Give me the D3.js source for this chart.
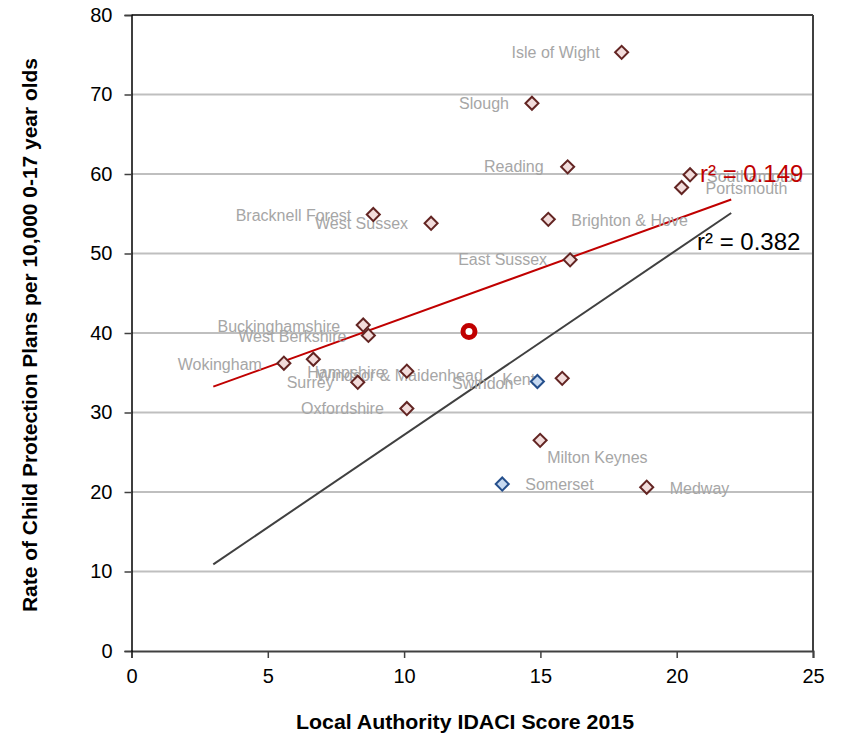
<!DOCTYPE html>
<html>
<head>
<meta charset="utf-8">
<script src="https://cdn.jsdelivr.net/npm/d3@7"></script>
<style>
  html, body { margin: 0; padding: 0; background: #fff; }
  svg { display: block; }
</style>
</head>
<body>
<svg id="chart" width="843" height="740"></svg>
<script>
// ---- Data ----
const authorities = ["Isle of Wight","Slough","Reading","Southampton","Portsmouth","Brighton & Hove","East Sussex",
  "Bracknell Forest","West Sussex","Buckinghamshire","West Berkshire","Wokingham","Hampshire","Surrey",
  "Windsor & Maidenhead","Oxfordshire","Swindon","Kent","Milton Keynes","Somerset","Medway"];
const idaci = [17.98,14.69,16.0,20.49,20.18,15.29,16.09,8.87,10.99,8.5,8.69,5.59,6.67,8.3,10.1,10.1,14.89,15.8,14.99,13.6,18.9];
const cppRate = [75.3,68.9,60.9,59.9,58.3,54.3,49.2,54.9,53.8,41.0,39.7,36.2,36.7,33.8,35.2,30.5,33.9,34.3,26.5,21.0,20.6];
const groups = ["se","se","se","se","se","se","se","se","se","se","se","se","se","se","se","se","sw","se","se","sw","se"];

const averagePoint = [12.38, 40.2];

const trendX = [3, 22];
const redTrendY = [33.25, 56.8];
const blackTrendY = [10.9, 55.1];
const redR2 = "r² = 0.149";
const blackR2 = "r² = 0.382";

const xTicks = [0,5,10,15,20,25];
const yTicks = [0,10,20,30,40,50,60,70,80];
const xTitle = "Local Authority IDACI Score 2015";
const yTitle = "Rate of Child Protection Plans per 10,000 0-17 year olds";

// ---- Label placement (style/layout, separate from data) ----
const labelPlacement = {
  "Isle of Wight": [-22, 0, "end"], "Slough": [-23, 0, "end"], "Reading": [-24, 0, "end"],
  "Southampton": [17, 2, "start"], "Portsmouth": [24, 1, "start"], "Brighton & Hove": [23, 1, "start"],
  "East Sussex": [-23, 0, "end"], "Bracknell Forest": [-22, 1, "end"], "West Sussex": [-23, 0, "end"],
  "Buckinghamshire": [-23, 1, "end"], "West Berkshire": [-22, 1, "end"], "Wokingham": [-22, 1, "end"],
  "Hampshire": [-6, 13, "start"], "Surrey": [-24, 0, "end"], "Windsor & Maidenhead": [76, 4, "end"],
  "Oxfordshire": [-23, 0, "end"], "Swindon": [-24, 2, "end"], "Kent": [-27, 1, "end"],
  "Milton Keynes": [7, 17, "start"], "Somerset": [23, 0, "start"], "Medway": [23, 1, "start"]
};

// ---- Layout ----
const svg = d3.select("#chart");
const L = 131.5, R = 813, T = 15, B = 651;
const x = d3.scaleLinear().domain([0,25]).range([L,R]);
const y = d3.scaleLinear().domain([0,80]).range([B,T]);
const font = "'Liberation Sans', Arial, sans-serif";

// gridlines
svg.append("g").selectAll("line").data(yTicks.filter(d => d > 0 && d < 80)).join("line")
  .attr("x1", L).attr("x2", R).attr("y1", d => y(d)).attr("y2", d => y(d))
  .attr("stroke", "#bfbfbf").attr("stroke-width", 2.2);

// frame top/right
svg.append("line").attr("x1", L).attr("x2", R).attr("y1", T).attr("y2", T)
  .attr("stroke", "#404040").attr("stroke-width", 2);
svg.append("line").attr("x1", R).attr("x2", R).attr("y1", T).attr("y2", B)
  .attr("stroke", "#404040").attr("stroke-width", 2);

// axes
const xAxis = svg.append("g").attr("transform", `translate(0,${B})`)
  .call(d3.axisBottom(x).tickValues(xTicks).tickSize(7).tickPadding(11).tickFormat(d3.format("d")));
const yAxis = svg.append("g").attr("transform", `translate(${L},0)`)
  .call(d3.axisLeft(y).tickValues(yTicks).tickSize(7).tickPadding(12).tickFormat(d3.format("d")));
[xAxis, yAxis].forEach(g => {
  g.select(".domain").attr("stroke", "#000").attr("stroke-width", 1.5);
  g.selectAll(".tick line").attr("stroke", "#404040").attr("stroke-width", 1.5);
  g.selectAll("text").attr("font-family", font).attr("font-size", 20).attr("fill", "#000");
});
xAxis.select(".domain").attr("stroke", "#404040").attr("stroke-width", 2);

// trend lines
const line = d3.line().x(d => x(d[0])).y(d => y(d[1]));
svg.append("path").datum(trendX.map((v,i) => [v, blackTrendY[i]]))
  .attr("d", line).attr("fill", "none").attr("stroke", "#404040").attr("stroke-width", 2);
svg.append("path").datum(trendX.map((v,i) => [v, redTrendY[i]]))
  .attr("d", line).attr("fill", "none").attr("stroke", "#c00000").attr("stroke-width", 2);

// labels
const pts = authorities.map((n,i) => ({name:n, x:idaci[i], y:cppRate[i], g:groups[i]}));
svg.append("g").selectAll("text").data(pts).join("text")
  .attr("x", d => x(d.x) + labelPlacement[d.name][0])
  .attr("y", d => y(d.y) + labelPlacement[d.name][1])
  .attr("dy", "0.35em")
  .attr("text-anchor", d => labelPlacement[d.name][2])
  .attr("font-family", font).attr("font-size", 16).attr("fill", "#a6a6a6")
  .text(d => d.name);

// markers
const diamond = d3.symbol().type(d3.symbolSquare).size(85);
svg.append("g").selectAll("path").data(pts).join("path")
  .attr("d", diamond)
  .attr("transform", d => `translate(${x(d.x)},${y(d.y)}) rotate(45)`)
  .attr("fill", d => d.g === "sw" ? "#c6d9f1" : "#f2dcdb")
  .attr("stroke", d => d.g === "sw" ? "#254f8c" : "#632523")
  .attr("stroke-width", 2);

// average point
svg.append("circle").attr("cx", x(averagePoint[0])).attr("cy", y(averagePoint[1]))
  .attr("r", 6).attr("fill", "#fff").attr("stroke", "#c00000").attr("stroke-width", 5);

// r² labels
svg.append("text").attr("x", 700).attr("y", 174).attr("dy", "0.35em")
  .attr("font-family", font).attr("font-size", 24).attr("fill", "#c00000").text(redR2);
svg.append("text").attr("x", 697).attr("y", 242).attr("dy", "0.35em")
  .attr("font-family", font).attr("font-size", 24).attr("fill", "#000").text(blackR2);

// axis titles
svg.append("text").attr("x", 465).attr("y", 722).attr("dy", "0.35em").attr("text-anchor", "middle")
  .attr("font-family", font).attr("font-size", 20).attr("font-weight", "bold")
  .attr("textLength", 338).attr("lengthAdjust", "spacingAndGlyphs").text(xTitle);
svg.append("text").attr("transform", "translate(30,335) rotate(-90)").attr("dy", "0.35em")
  .attr("text-anchor", "middle")
  .attr("font-family", font).attr("font-size", 20).attr("font-weight", "bold")
  .attr("textLength", 554).attr("lengthAdjust", "spacingAndGlyphs").text(yTitle);
</script>
</body>
</html>
